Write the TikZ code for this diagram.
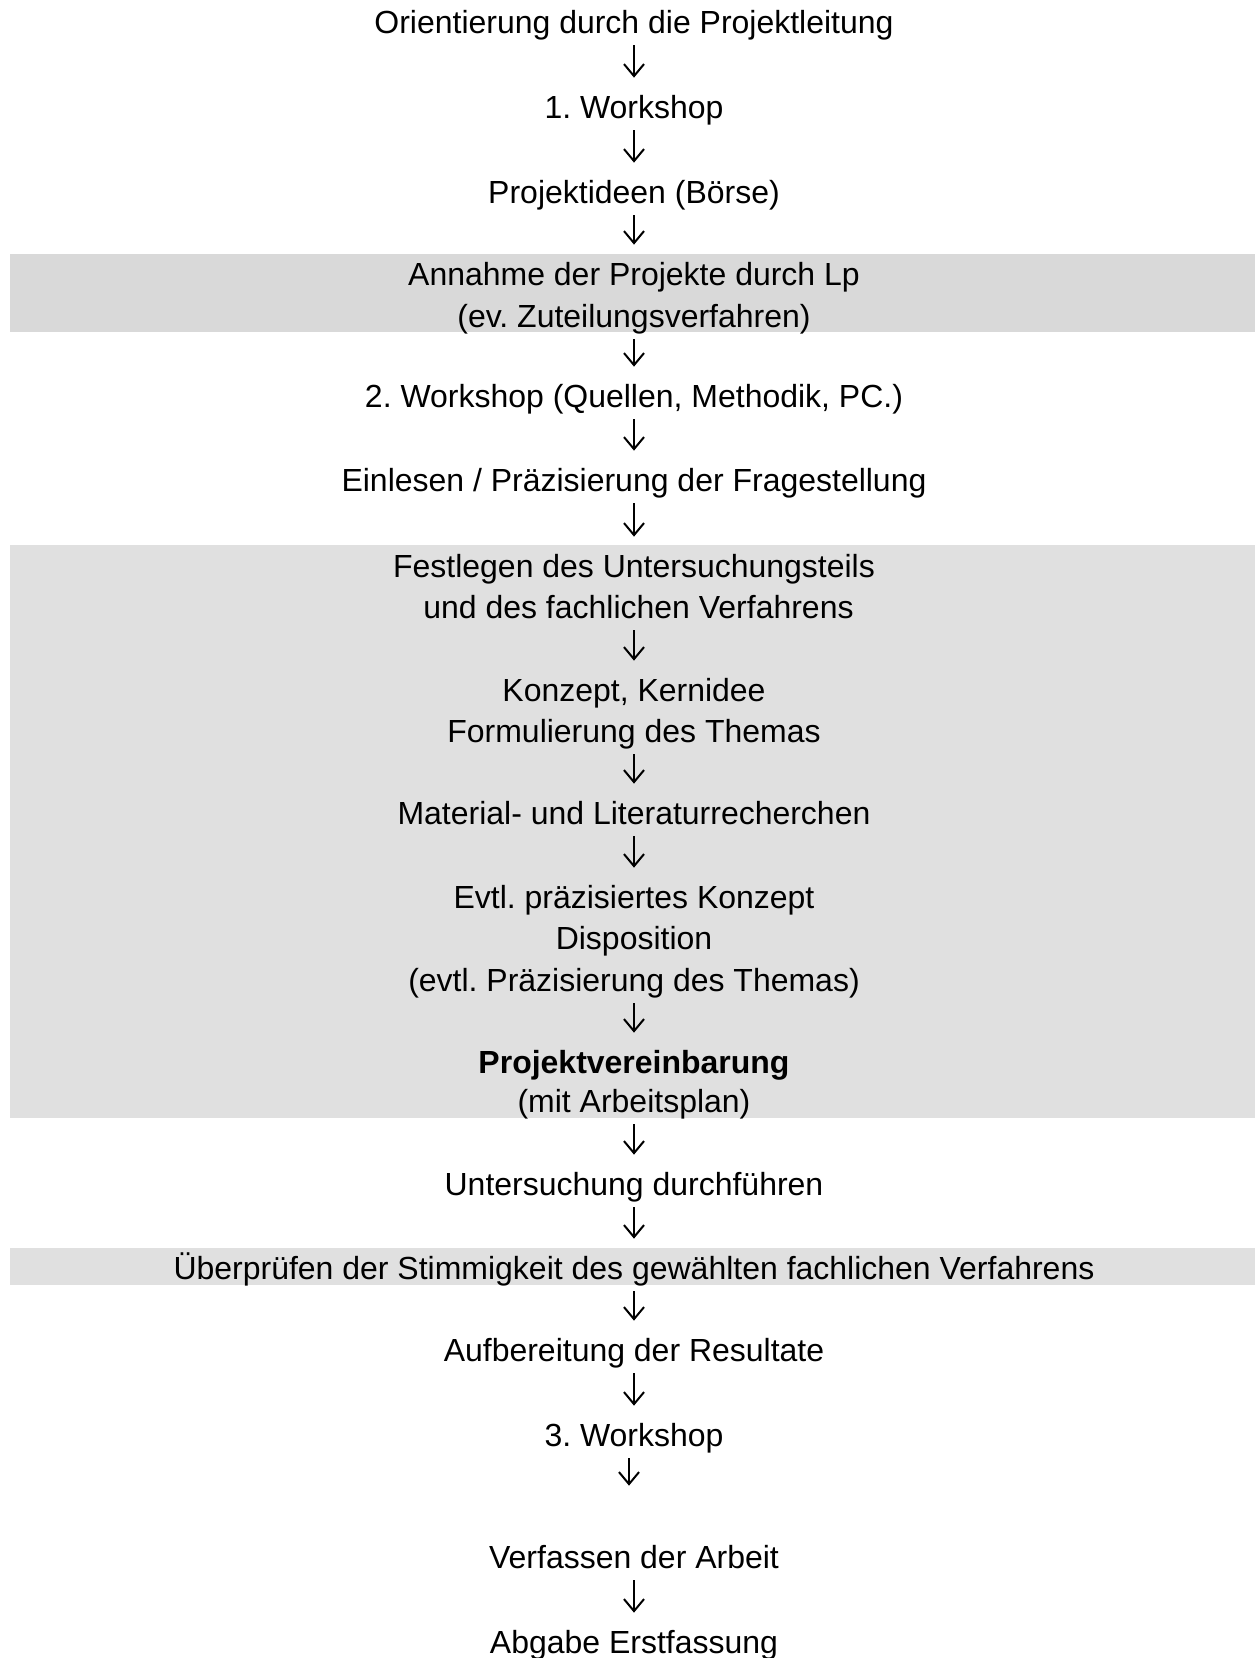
\documentclass[tikz,border=0pt]{standalone}
\usepackage{fontspec}
\setmainfont{Liberation Sans}
\usetikzlibrary{arrows.meta}
\definecolor{bandA}{RGB}{217,217,217}
\definecolor{bandB}{RGB}{224,224,224}
\frenchspacing
\begin{document}
\begin{tikzpicture}[
    line/.style={anchor=base, inner sep=0pt, text height=0.42cm, font=\fontsize{18.2}{22}\selectfont},
    flow/.style={line width=0.04cm, -{Straight Barb[length=0.24cm,width=0.4cm,line width=0.04cm]},
      shorten <=0.24cm, shorten >=0.38cm}
  ]
        \useasboundingbox (0,0) rectangle (25.1,-33.16);

        % grey bands
        \fill[bandA] (0.2,-5.08) rectangle (25.1,-6.64);
        \fill[bandB] (0.2,-10.9) rectangle (25.1,-22.36);
        \fill[bandB] (0.2,-24.96) rectangle (25.1,-25.7);

        \node[line] (orient) at (12.68,-0.66) {Orientierung durch die Projektleitung};
        \node[line] (ws1) at (12.68,-2.36) {1. Workshop};
        \node[line] (ideen) at (12.68,-4.06) {Projektideen (Börse)};
        \node[line] (annahme) at (12.68,-5.70) {Annahme der Projekte durch Lp};
        \node[line] (zuteil) at (12.68,-6.54) {(ev. Zuteilungsverfahren)};
        \node[line] (ws2) at (12.68,-8.14) {2. Workshop (Quellen, Methodik, PC.)};
        \node[line] (einlesen) at (12.68,-9.82) {Einlesen / Präzisierung der Fragestellung};
        \node[line] (festlegen) at (12.68,-11.54) {Festlegen des Untersuchungsteils};
        \node[line] (verfahren) at (12.68,-12.36) {\ und des fachlichen Verfahrens};
        \node[line] (konzept) at (12.68,-14.02) {Konzept, Kernidee};
        \node[line] (formul) at (12.68,-14.84) {Formulierung des Themas};
        \node[line] (material) at (12.68,-16.48) {Material- und Literaturrecherchen};
        \node[line] (evtl) at (12.68,-18.16) {Evtl. präzisiertes Konzept};
        \node[line] (dispo) at (12.68,-18.98) {Disposition};
        \node[line] (praez) at (12.68,-19.82) {(evtl. Präzisierung des Themas)};
        \node[line] (vereinb) at (12.68,-21.46) {\bfseries Projektvereinbarung};
        \node[line] (arbplan) at (12.68,-22.24) {(mit Arbeitsplan)};
        \node[line] (unters) at (12.68,-23.90) {Untersuchung durchführen};
        \node[line] (ueberpr) at (12.68,-25.58) {Überprüfen der Stimmigkeit des gewählten fachlichen Verfahrens};
        \node[line] (aufber) at (12.68,-27.22) {Aufbereitung der Resultate};
        \node[line] (ws3) at (12.68,-28.92) {3. Workshop};
        \node[line] (verf) at (12.68,-31.36) {Verfassen der Arbeit};
        \node[line] (abgabe) at (12.68,-33.06) {Abgabe Erstfassung};

        \draw[flow] (orient.base) -- (ws1.north);
        \draw[flow] (ws1.base) -- (ideen.north);
        \draw[flow] (ideen.base) -- (annahme.north);
        \draw[flow] (zuteil.base) -- (ws2.north);
        \draw[flow] (ws2.base) -- (einlesen.north);
        \draw[flow] (einlesen.base) -- (festlegen.north);
        \draw[flow] (verfahren.base) -- (konzept.north);
        \draw[flow] (formul.base) -- (material.north);
        \draw[flow] (material.base) -- (evtl.north);
        \draw[flow] (praez.base) -- (vereinb.north);
        \draw[flow] (arbplan.base) -- (unters.north);
        \draw[flow] (unters.base) -- (ueberpr.north);
        \draw[flow] (ueberpr.base) -- (aufber.north);
        \draw[flow] (aufber.base) -- (ws3.north);
        \draw[flow, shorten >=1.22cm] ([xshift=-0.1cm]ws3.base) -- ([xshift=-0.1cm]verf.north);
        \draw[flow] (verf.base) -- (abgabe.north);

    \end{tikzpicture}
\end{document}
